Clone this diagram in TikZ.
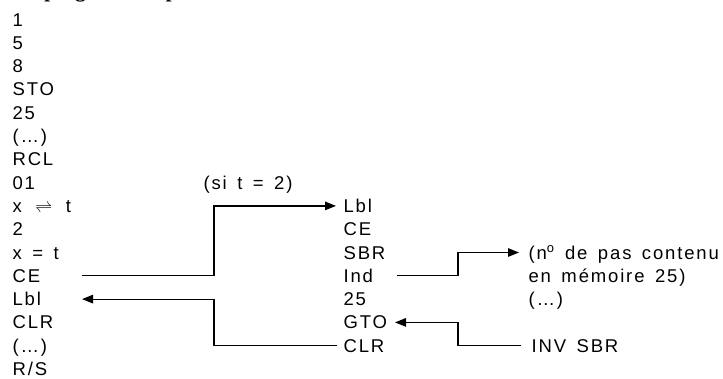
\documentclass[tikz,border=0pt]{standalone}
\usepackage{fontspec}
\setmainfont[LetterSpace=10,WordSpace=1.5]{Liberation Sans}
\newfontfamily\headfont{Liberation Serif}
\usetikzlibrary{arrows.meta}

\begin{document}
\begin{tikzpicture}[x=1pt,y=-1pt,>={Triangle[length=11pt,width=8.5pt]}, line width=1.2pt,
	font=\fontsize{18.5}{22}\selectfont,
	key/.style={anchor=west, inner sep=0pt, text height=13pt, text depth=0pt}]
	\def\dy{23.3} \def\yo{19.5}
	\useasboundingbox (0,0) rectangle (723,378);
	\node[anchor=base west, inner sep=0pt, font=\headfont\fontsize{21}{24}\selectfont\bfseries] (titre) at (0,-3) {sous programme après :};
	% colonne de gauche
	\foreach \t [count=\i] in {1,5,8,STO,25,(\dots),RCL,01,x \,$\rightleftharpoons$\, t,2,x = t,CE,Lbl,CLR,(\dots),R/S}
	{\node[key] (l\i) at (12,{\yo+(\i-1)*\dy}) {\t};}
	% colonne du milieu
	\foreach \t [count=\i from 9] in {Lbl,CE,SBR,Ind,25,GTO,CLR}
	{\node[key] (m\i) at (343,{\yo+(\i-1)*\dy}) {\t};}
	\node[key] (si) at (203,{\yo+7*\dy}) {(si t = 2)};
	% colonne de droite
	\node[key] (r11) at (528,{\yo+10*\dy}) {(n\textsuperscript{o} de pas contenu};
	\node[key] (r12) at (528,{\yo+11*\dy}) {en mémoire 25)};
	\node[key] (r13) at (528,{\yo+12*\dy}) {(\dots)};
	\node[key] (r15) at (531,{\yo+14*\dy}) {INV SBR};
	% renvois
	\coordinate (gA) at (82,0); \coordinate (kA) at (214,0);
	\coordinate (gB) at (397,0); \coordinate (kB) at (458,0); \coordinate (gC) at (395,0);
	\draw[->] (l12 -| gA) -- (l12 -| kA) |- ([xshift=-7pt]m9.west);
	\draw[->] ([xshift=-6pt]m15.west) -| (kA |- l13) -- (l13 -| gA);
	\draw[->] (m12 -| gB) -- (m12 -| kB) |- ([xshift=-9pt]r11.west);
	\draw[->] ([xshift=-10pt]r15.west) -| (kB |- m14) -- (m14 -| gC);
\end{tikzpicture}
\end{document}
